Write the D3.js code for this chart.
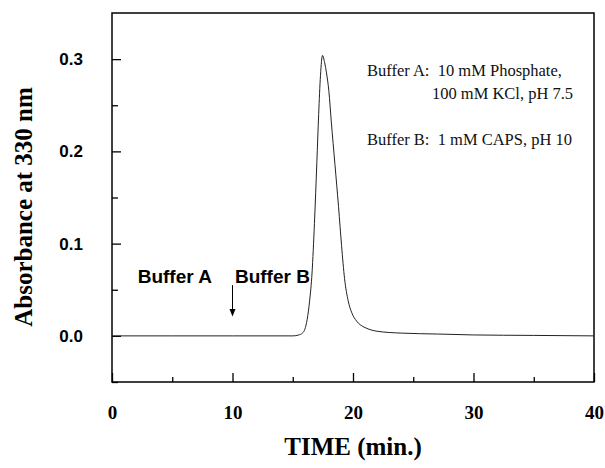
<!DOCTYPE html>
<meta charset="utf-8">
<head>
<script src="https://d3js.org/d3.v7.min.js"></script>
<style>
  body { margin: 0; background: #fff; }
  .serif { font-family: "Liberation Serif", "Times New Roman", serif; }
  .sans { font-family: "Liberation Sans", Arial, sans-serif; }
</style>
</head>
<body>
<svg id="chart" width="605" height="468"></svg>

<script>
// chromatogram trace
var time = [0, 5, 10, 15, 15.5, 15.8, 16.0, 16.2, 16.4, 16.6, 16.8, 17.0, 17.15, 17.3, 17.47, 17.65, 17.8, 18.0, 18.2, 18.5, 18.8, 19.05, 19.3, 19.6, 19.9, 20.3, 20.6, 21.0, 22.0, 24.0, 27.0, 30.0, 35.0, 40.0];
var absorbance = [0, 0, 0, 0, 0.001, 0.003, 0.007, 0.018, 0.038, 0.068, 0.122, 0.188, 0.24, 0.282, 0.304, 0.296, 0.285, 0.265, 0.232, 0.186, 0.14, 0.098, 0.062, 0.038, 0.025, 0.016, 0.012, 0.009, 0.005, 0.003, 0.002, 0.001, 0.0005, 0];

var xMajor = [0, 10, 20, 30, 40];
var xMinor = [5, 15, 25, 35];
var yMajor = [0, 0.1, 0.2, 0.3];
var yMinor = [-0.05, 0.05, 0.15, 0.25];

var bufferInfo = ["Buffer A:  10 mM Phosphate,", "100 mM KCl, pH 7.5", "Buffer B:  1 mM CAPS, pH 10"];

var svg = d3.select("#chart"),
  margin = {top: 13, right: 11, bottom: 86, left: 112},
  width = +svg.attr("width") - margin.left - margin.right,
  height = +svg.attr("height") - margin.top - margin.bottom;

var g = svg.append("g").attr("transform", "translate(" + margin.left + "," + margin.top + ")");

var x = d3.scaleLinear().domain([0, 40]).range([0, width]);
var y = d3.scaleLinear().domain([-0.05, 0.35]).range([height, 0]);

// x axis, ticks pointing inward
var xAxis = g.append("g")
  .attr("transform", "translate(0," + height + ")")
  .call(d3.axisBottom(x).tickValues(xMajor).tickSizeInner(-9).tickSizeOuter(0).tickPadding(24).tickFormat(d3.format("d")));
xAxis.select(".domain").remove();
xAxis.selectAll("text").attr("class", "serif").style("font-size", "19px").style("font-weight", "bold").attr("fill", "#000");
xAxis.selectAll("line").attr("stroke", "#000").attr("stroke-width", 1.3);

var xAxisMinor = g.append("g")
  .attr("transform", "translate(0," + height + ")")
  .call(d3.axisBottom(x).tickValues(xMinor).tickSizeInner(-5).tickSizeOuter(0).tickFormat(""));
xAxisMinor.select(".domain").remove();
xAxisMinor.selectAll("line").attr("stroke", "#000").attr("stroke-width", 1.3);

// y axis
var yAxis = g.append("g")
  .call(d3.axisLeft(y).tickValues(yMajor).tickSizeInner(-9).tickSizeOuter(0).tickPadding(29).tickFormat(d3.format(".1f")));
yAxis.select(".domain").remove();
yAxis.selectAll("text").attr("class", "sans").style("font-size", "17px").style("font-weight", "bold").attr("fill", "#000");
yAxis.selectAll("line").attr("stroke", "#000").attr("stroke-width", 1.3);

var yAxisMinor = g.append("g")
  .call(d3.axisLeft(y).tickValues(yMinor).tickSizeInner(-6).tickSizeOuter(0).tickFormat(""));
yAxisMinor.select(".domain").remove();
yAxisMinor.selectAll("line").attr("stroke", "#000").attr("stroke-width", 1.3);

// frame
g.append("rect")
  .attr("width", width)
  .attr("height", height)
  .attr("fill", "none")
  .attr("stroke", "#000")
  .attr("stroke-width", 1.5);

// the trace
var line = d3.line()
  .x(function(d, i) { return x(time[i]); })
  .y(function(d) { return y(d); })
  .curve(d3.curveMonotoneX);

g.append("path")
  .datum(absorbance)
  .attr("d", line)
  .attr("fill", "none")
  .attr("stroke", "#222")
  .attr("stroke-width", 1);

// buffer switch annotation
g.append("text").attr("class", "sans")
  .attr("x", x(2.13)).attr("y", y(0.057))
  .style("font-size", "19px").style("font-weight", "bold")
  .text("Buffer A");
g.append("text").attr("class", "sans")
  .attr("x", x(10.2)).attr("y", y(0.057))
  .style("font-size", "19px").style("font-weight", "bold")
  .text("Buffer B");

g.append("line")
  .attr("x1", x(10)).attr("x2", x(10))
  .attr("y1", y(0.055)).attr("y2", y(0.028))
  .attr("stroke", "#000").attr("stroke-width", 1);
g.append("path")
  .attr("d", "M" + (x(10) - 3) + "," + y(0.029) + "L" + (x(10) + 3) + "," + y(0.029) + "L" + x(10) + "," + y(0.021) + "Z")
  .attr("fill", "#000");

// buffer description
var info = g.append("g").attr("class", "serif").style("font-size", "16.5px").attr("fill", "#111");
info.append("text").attr("x", x(21.16)).attr("y", y(0.2815)).attr("xml:space", "preserve").text(bufferInfo[0]);
info.append("text").attr("x", x(26.55)).attr("y", y(0.2565)).text(bufferInfo[1]);
info.append("text").attr("x", x(21.16)).attr("y", y(0.2065)).attr("xml:space", "preserve").text(bufferInfo[2]);

// axis titles
svg.append("text").attr("class", "serif")
  .attr("x", margin.left + width / 2).attr("y", 455)
  .attr("text-anchor", "middle")
  .style("font-size", "25px").style("font-weight", "bold")
  .text("TIME (min.)");

svg.append("text").attr("class", "serif")
  .attr("transform", "translate(32,207) rotate(-90)")
  .attr("text-anchor", "middle")
  .style("font-size", "25px").style("font-weight", "bold")
  .text("Absorbance at 330 nm");
</script>
</body>
